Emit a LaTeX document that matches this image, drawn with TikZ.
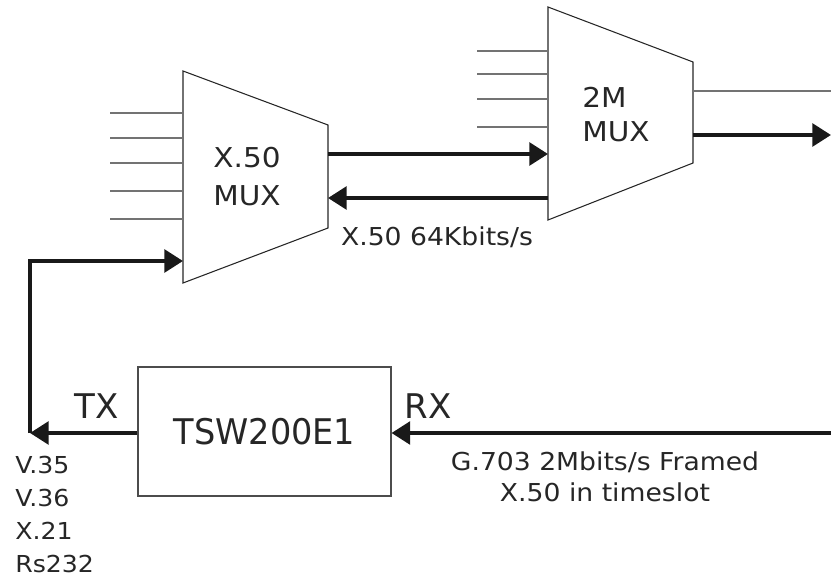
\documentclass[tikz,border=0pt]{standalone}
\usepackage{fontspec}
\setmainfont{DejaVu Sans}
\newfontfamily\widefont{DejaVu Sans}[FakeStretch=1.08]
\newfontfamily\narrowfont{DejaVu Sans}[FakeStretch=0.95]
\usetikzlibrary{arrows.meta}
\begin{document}
\begin{tikzpicture}[x=0.75pt,y=-0.75pt,
  thin line/.style={draw=black!55,line width=0.8pt},
  shape line/.style={draw=black!85,line width=0.8pt},
  thick arrow/.style={draw=black!90,line width=2.9pt,-{Triangle[length=14pt,width=17pt]}},
  lbl/.style={inner sep=0pt,text=black!85}]
\useasboundingbox (0,0) rectangle (831,577);
% X.50 MUX trapezoid
\coordinate (a1) at (183,71);
\coordinate (a2) at (328,125);
\coordinate (a3) at (328,228);
\coordinate (a4) at (183,283);
\draw[shape line] (a1) -- (a2) -- (a3) -- (a4) -- cycle;
% 2M MUX trapezoid
\coordinate (b1) at (548,7);
\coordinate (b2) at (693,62);
\coordinate (b3) at (693,163);
\coordinate (b4) at (548,220);
\draw[shape line] (b1) -- (b2) -- (b3) -- (b4) -- cycle;
% X.50 inputs
\foreach \y [count=\i] in {113,138,163,191,219}{
  \coordinate (xi\i) at (110,\y);
  \coordinate (xe\i) at (183,\y);
  \draw[thin line] (xi\i) -- (xe\i);
}
% 2M inputs
\foreach \y [count=\i] in {51,74,99,127}{
  \coordinate (mi\i) at (477,\y);
  \coordinate (me\i) at (548,\y);
  \draw[thin line] (mi\i) -- (me\i);
}
% 2M outputs
\coordinate (o1s) at (693,91);
\coordinate (o1e) at (831,91);
\draw[thin line] (o1s) -- (o1e);
\coordinate (o2s) at (693,135);
\coordinate (o2e) at (831,135);
\draw[thick arrow] (o2s) -- (o2e);
% between muxes
\coordinate (x50r1) at (328,154);
\coordinate (m2l1) at (548,154);
\draw[thick arrow] (x50r1) -- (m2l1);
\coordinate (x50r2) at (328,198);
\coordinate (m2l2) at (548,198);
\draw[thick arrow] (m2l2) -- (x50r2);
% TSW box
\node[draw=black!70,line width=0.8pt,minimum width=253*0.75pt,minimum height=129*0.75pt,inner sep=0pt,
  font=\narrowfont\fontsize{26.5}{30}\selectfont,text=black!85] (tsw) at (264.5,431.5) {TSW200E1};
\coordinate (txend) at (30,433);
\coordinate (corner) at (30,261);
\coordinate (x50in) at (183,261);
\draw[thick arrow] (tsw.west |- 0,433) -- (txend);
\draw[thick arrow] (txend) -- (corner) -- (x50in);
\coordinate (rxstart) at (831,433);
\draw[thick arrow] (rxstart) -- (tsw.east |- 0,433);
% labels
\node[lbl,font=\widefont\fontsize{20.5}{28.5}\selectfont,align=center] (x50lbl) at (247,177) {X.50\\MUX};
\node[lbl,font=\widefont\fontsize{20.5}{25.5}\selectfont,align=left,anchor=west] (m2lbl) at (582,115) {2M\\MUX};
\node[lbl,font=\widefont\fontsize{18.5}{20}\selectfont] (rate) at (437,237) {X.50 64Kbits/s};
\node[lbl,font=\fontsize{25.5}{30}\selectfont] (tx) at (97,406) {TX};
\node[lbl,font=\fontsize{25.5}{30}\selectfont] (rx) at (428,406) {RX};
\node[lbl,font=\widefont\fontsize{17.5}{24.75}\selectfont,align=left,anchor=north west] (ifs) at (15,456) {V.35\\V.36\\X.21\\Rs232};
\node[lbl,font=\widefont\fontsize{18.5}{23}\selectfont,align=center] (g703) at (605,477) {G.703 2Mbits/s Framed\\X.50 in timeslot};
\end{tikzpicture}
\end{document}
